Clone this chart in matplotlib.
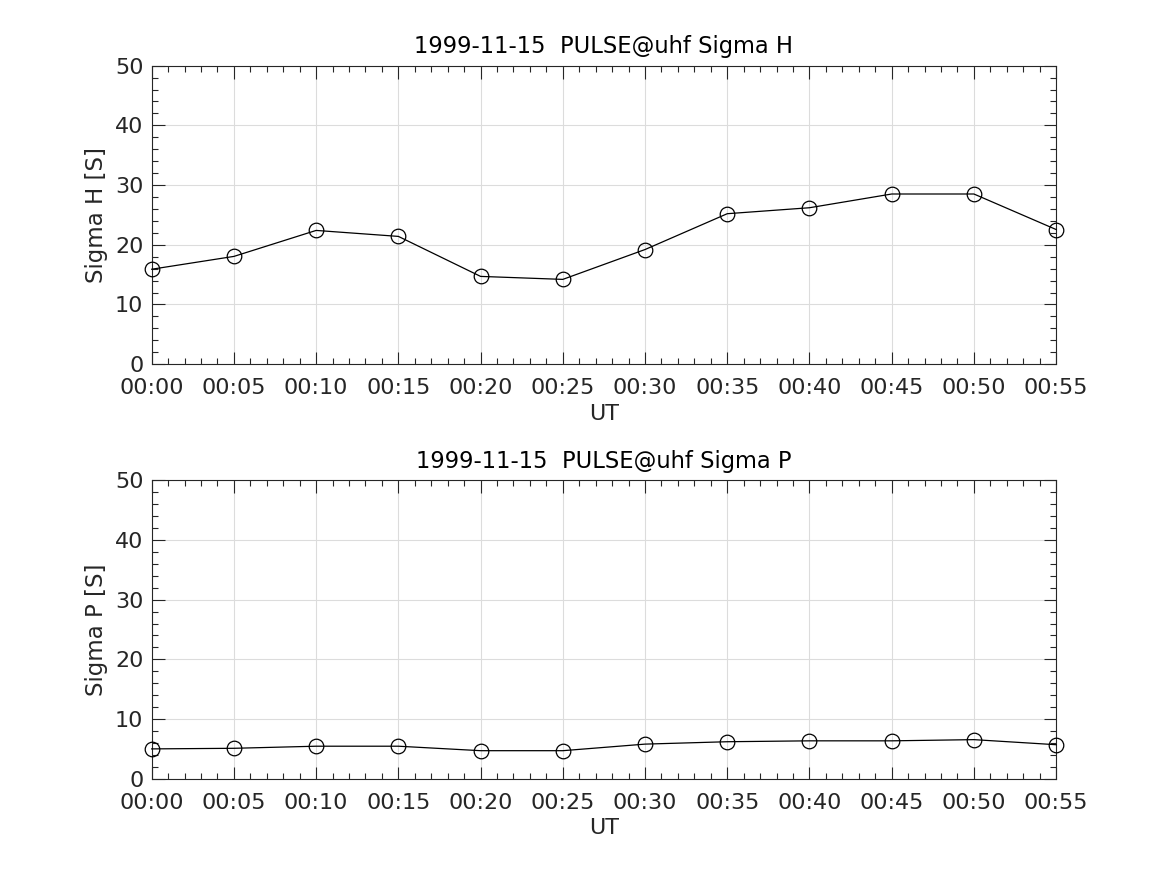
import matplotlib
matplotlib.use("Agg")
import matplotlib.pyplot as plt
from matplotlib.ticker import MultipleLocator, FixedLocator, FixedFormatter

minutes = [0, 5, 10, 15, 20, 25, 30, 35, 40, 45, 50, 55]
tick_labels = ["00:00", "00:05", "00:10", "00:15", "00:20", "00:25",
               "00:30", "00:35", "00:40", "00:45", "00:50", "00:55"]
sigma_h = [15.9, 18.05, 22.4, 21.4, 14.7, 14.2, 19.2, 25.2, 26.2, 28.5, 28.5, 22.55]
sigma_p = [5.0, 5.1, 5.45, 5.45, 4.7, 4.7, 5.8, 6.2, 6.35, 6.35, 6.55, 5.7]
date_str = "1999-11-15"
titles = [f"{date_str}  PULSE@uhf Sigma H", f"{date_str}  PULSE@uhf Sigma P"]
ylabels = ["Sigma H [S]", "Sigma P [S]"]

plt.rcParams['font.family'] = ['DejaVu Sans']

fig = plt.figure(figsize=(11.67, 8.75), dpi=100)
positions = [[0.13, 0.5838, 0.775, 0.3412], [0.13, 0.11, 0.775, 0.3412]]
tc = '#262626'
for pos, data, title, ylab in zip(positions, [sigma_h, sigma_p], titles, ylabels):
    ax = fig.add_axes(pos)
    ax.plot(minutes, data, '-', color='black', lw=0.9, marker='o', ms=10.5,
            mfc='none', mec='black', mew=0.9, clip_on=False, zorder=3)
    ax.set_xlim(0, 55)
    ax.set_ylim(0, 50)
    ax.xaxis.set_major_locator(FixedLocator(minutes))
    ax.xaxis.set_major_formatter(FixedFormatter(tick_labels))
    ax.xaxis.set_minor_locator(MultipleLocator(1))
    ax.yaxis.set_major_locator(MultipleLocator(10))
    ax.yaxis.set_minor_locator(MultipleLocator(2))
    ax.tick_params(which='both', direction='in', top=True, right=True, color=tc,
                   labelcolor=tc, labelsize=16, width=0.8)
    ax.tick_params(which='major', length=9)
    ax.tick_params(which='minor', length=4.5)
    ax.tick_params(axis='x', which='major', pad=10)
    ax.tick_params(axis='y', which='major', pad=6)
    ax.grid(True, which='major', color='#dcdcdc', lw=0.8)
    ax.set_axisbelow(True)
    for s in ax.spines.values():
        s.set_color(tc)
        s.set_linewidth(0.8)
    ax.set_title(title, fontsize=16.3, color='black', pad=9)
    ax.set_ylabel(ylab, fontsize=16.5, color=tc, labelpad=5)
    ax.set_xlabel("UT", fontsize=16, color=tc, labelpad=4)

fig.savefig("out.png", dpi=100)
